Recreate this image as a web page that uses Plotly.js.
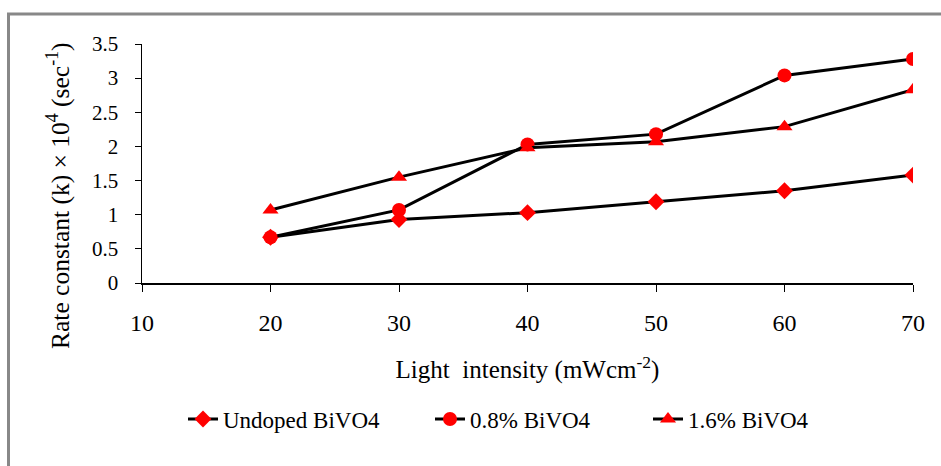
<!DOCTYPE html>
<html>
<head>
<meta charset="utf-8">
<script src="https://cdn.plot.ly/plotly-3.0.1.min.js"></script>
<style>
html,body{margin:0;padding:0;background:#fff;}
#chart{width:941px;height:466px;}
</style>
</head>
<body>
<div id="chart"></div>
<script>
const intensity = [20, 30, 40, 50, 60, 70];
const undoped = [0.67, 0.93, 1.03, 1.19, 1.35, 1.58];
const doped08 = [0.67, 1.07, 2.03, 2.18, 3.04, 3.28];
const doped16 = [1.07, 1.55, 1.98, 2.07, 2.29, 2.83];
const seriesNames = ['Undoped BiVO4', '0.8% BiVO4', '1.6% BiVO4'];
const xTicks = [10, 20, 30, 40, 50, 60, 70];
const yTicks = [0, 0.5, 1, 1.5, 2, 2.5, 3, 3.5];

const FONT = "'Liberation Serif', 'Times New Roman', serif";
function tr(y, name, symbol, size, leg) {
  return {
    x: intensity, y: y, name: name, type: 'scatter', mode: 'lines+markers',
    legend: leg,
    line: {color: '#000', width: 3},
    marker: {color: '#ff0000', symbol: symbol, size: size}
  };
}
const data = [
  tr(undoped, seriesNames[0], 'diamond', 13, 'legend'),
  tr(doped08, seriesNames[1], 'circle', 14, 'legend2'),
  tr(doped16, seriesNames[2], 'triangle-up', 14, 'legend3')
];

const L = 142, R = 913, T = 44, B = 283, W = 941, H = 466;
const pw = R - L, ph = B - T;
const px = v => (v - L) / pw;
const py = v => (B - v) / ph;

function leg(xpix) {
  return {
    orientation: 'h', x: px(xpix), y: py(419), xanchor: 'left', yanchor: 'middle',
    font: {family: FONT, size: 23, color: '#000'}, itemwidth: 30,
    bgcolor: 'rgba(0,0,0,0)', borderwidth: 0
  };
}

const layout = {
  width: W, height: H,
  margin: {l: L, r: W - R, t: T, b: H - B, pad: 0},
  paper_bgcolor: '#fff', plot_bgcolor: '#fff',
  font: {family: FONT, size: 20, color: '#000'},
  showlegend: true,
  legend: leg(183),
  legend2: leg(430),
  legend3: leg(648),
  xaxis: {
    range: [10, 70], tickvals: xTicks, ticktext: xTicks.map(String),
    showgrid: false, zeroline: false, showline: true, linecolor: '#000', linewidth: 2,
    ticks: 'outside', ticklen: 7, tickcolor: '#000', tickwidth: 1,
    ticklabelstandoff: 10,
    tickfont: {family: FONT, size: 24},
    title: {text: 'Light  intensity (mWcm<sup>-2</sup>)', font: {family: FONT, size: 25}, standoff: 26}
  },
  yaxis: {
    range: [0, 3.5], tickvals: yTicks, ticktext: yTicks.map(String),
    showgrid: false, zeroline: false, showline: true, linecolor: '#000', linewidth: 1.5,
    ticks: 'outside', ticklen: 6, tickcolor: '#000', tickwidth: 1,
    ticklabelstandoff: 12,
    tickfont: {family: FONT, size: 21}
  },
  annotations: [{
    xref: 'paper', yref: 'paper', x: px(58), y: py(196), xanchor: 'center', yanchor: 'middle',
    text: 'Rate constant (k) × 10<sup>4</sup> (sec<sup>-1</sup>)', textangle: -90,
    showarrow: false, font: {family: FONT, size: 25.5, color: '#000'}
  }],
  shapes: [{
    type: 'rect', xref: 'paper', yref: 'paper', layer: 'below',
    x0: px(8.5), y0: py(900), x1: px(1400), y1: py(14),
    line: {color: '#888', width: 3}, fillcolor: 'rgba(0,0,0,0)'
  }]
};
Plotly.newPlot('chart', data, layout, {displayModeBar: false, staticPlot: true});
</script>
</body>
</html>
